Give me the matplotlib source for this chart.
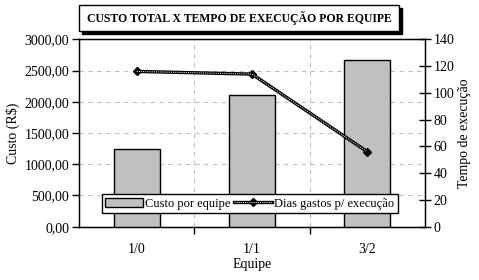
import numpy as np
import matplotlib.pyplot as plt
from matplotlib.patches import Rectangle
from matplotlib.ticker import FuncFormatter
from matplotlib.legend_handler import HandlerTuple

plt.rcParams['font.family'] = ['Liberation Serif', 'DejaVu Serif']

# dados
equipes = ['1/0', '1/1', '3/2']
custo = [1240, 2110, 2670]
dias = [116, 114, 56]

fig = plt.figure(figsize=(4.79, 2.8), dpi=100)
ax = fig.add_axes([79/479, 1 - 226.7/280, 346/479, 187.4/280])
x = np.arange(len(equipes))

ax.bar(x, custo, width=0.4, color='#c0c0c0', edgecolor='black', linewidth=1,
       zorder=3, label='Custo por equipe')
ax.set_xlim(-0.5, 2.5)
ax.set_ylim(0, 3000)
ax.set_yticks(np.arange(0, 3001, 500))
ax.yaxis.set_major_formatter(FuncFormatter(lambda v, p: f'{v:.2f}'.replace('.', ',')))
ax.set_xticks(x)
ax.set_xticklabels(equipes)
ax.set_xticks([0.5, 1.5], minor=True)
ax.tick_params(axis='x', which='major', length=0, pad=12, labelsize=10)
ax.tick_params(axis='x', which='minor', length=5, direction='out', width=1)
ax.tick_params(axis='y', length=5, direction='out', width=1, labelsize=10, pad=2)
ax.grid(axis='y', which='major', color='#c0c0c0', linestyle=(0, (4, 4)), linewidth=0.8, zorder=0)
ax.grid(axis='x', which='minor', color='#c0c0c0', linestyle=(0, (4, 4)), linewidth=0.8, zorder=0)
ax.set_axisbelow(True)
ax.set_ylabel('Custo (R$)', fontsize=10, labelpad=3)
ax.set_xlabel('Equipe', fontsize=10, labelpad=1)
for s in ax.spines.values():
    s.set_linewidth(1)

ax2 = ax.twinx()
ax2.set_ylim(0, 140)
ax2.set_yticks(np.arange(0, 141, 20))
ax2.tick_params(axis='y', length=8, direction='inout', width=1, labelsize=10, pad=2)
l1, = ax2.plot(x, dias, color='black', linewidth=2.4, marker='D', markersize=4.5, zorder=4)
l2, = ax2.plot(x, dias, color='white', linewidth=0.7, linestyle=(0, (1, 1.2)), zorder=5)
ax2.set_ylabel('Tempo de execução', fontsize=10, labelpad=3)

bar_handle = ax.patches[0]
leg = ax2.legend([bar_handle, (l1, l2)], ['Custo por equipe', 'Dias gastos p/ execução'],
                 handler_map={tuple: HandlerTuple(ndivide=1, pad=0)},
                 loc='center', bbox_to_anchor=(0.494, 0.123), ncol=2, fontsize=9,
                 frameon=True, fancybox=False, edgecolor='black', framealpha=1,
                 borderpad=0.3, handlelength=3.0, handletextpad=0.2, columnspacing=0.3,
                 borderaxespad=0)
leg.get_frame().set_linewidth(1)

# caixa do titulo com sombra
fig.add_artist(Rectangle((82/479, 1 - 34/280), 320/479, 26/280, transform=fig.transFigure,
                         facecolor='black', edgecolor='black'))
fig.add_artist(Rectangle((79/479, 1 - 31/280), 320/479, 26/280, transform=fig.transFigure,
                         facecolor='white', edgecolor='black', linewidth=1))
fig.text(239/479, 1 - 18/280, 'CUSTO TOTAL X TEMPO DE EXECUÇÃO POR EQUIPE',
         ha='center', va='center', fontsize=8.5, fontweight='bold')

fig.savefig('out.png', dpi=100)
